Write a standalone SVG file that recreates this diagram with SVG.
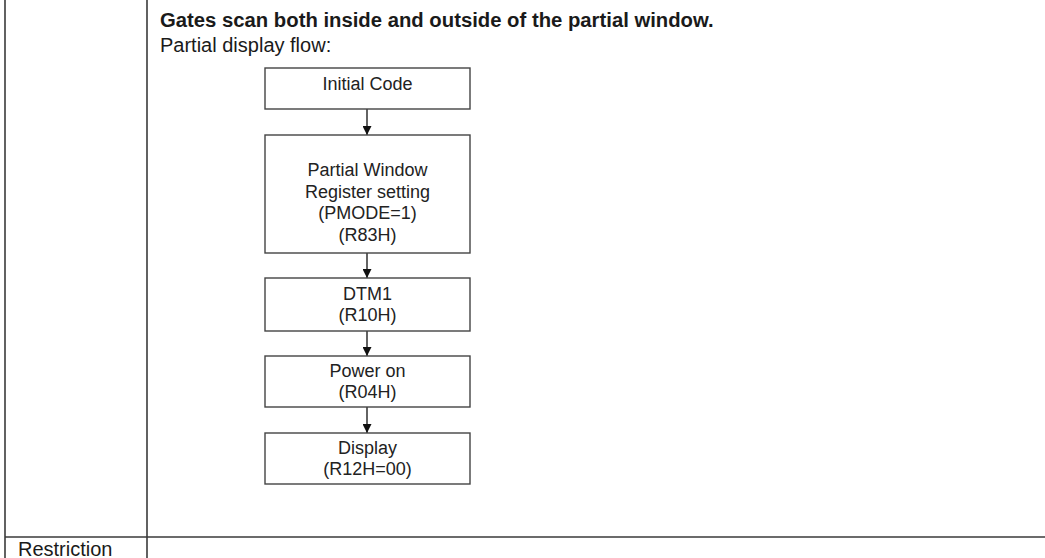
<svg xmlns="http://www.w3.org/2000/svg" width="1045" height="558" viewBox="0 0 1045 558">
<defs>
<style>
.grid{stroke:#3a3a3a;stroke-width:1.6;fill:none}
.box{fill:#ffffff;stroke:#444444;stroke-width:1.4}
.t{font-family:"Liberation Sans",Arial,sans-serif;fill:#1a1a1a}
.bt{font-family:"Liberation Sans",Arial,sans-serif;font-size:18px;fill:#222222;text-anchor:middle}
.conn{stroke:#222222;stroke-width:1.4;fill:none}
</style>
<marker id="arr" viewBox="0 0 10 10" refX="10" refY="5" markerWidth="9" markerHeight="9" markerUnits="userSpaceOnUse" orient="auto">
<path d="M0,0 L10,5 L0,10 Z" fill="#111111"/>
</marker>
</defs>
<rect width="1045" height="558" fill="#ffffff"/>
<g id="table">
<line class="grid" x1="5" y1="0" x2="5" y2="558"/>
<line class="grid" x1="147" y1="0" x2="147" y2="558"/>
<line class="grid" x1="5" y1="537" x2="1045" y2="537"/>
<text class="t" x="18" y="556" font-size="20">Restriction</text>
</g>
<g id="heading">
<text class="t" x="160" y="27" font-size="20.3" font-weight="bold">Gates scan both inside and outside of the partial window.</text>
<text class="t" x="160" y="52" font-size="20">Partial display flow:</text>
</g>
<g id="connectors">
<line class="conn" x1="367" y1="109" x2="367" y2="135" marker-end="url(#arr)"/>
<line class="conn" x1="367" y1="253" x2="367" y2="278" marker-end="url(#arr)"/>
<line class="conn" x1="367" y1="331" x2="367" y2="356" marker-end="url(#arr)"/>
<line class="conn" x1="367" y1="407" x2="367" y2="433" marker-end="url(#arr)"/>
</g>
<g id="node-initial">
<rect class="box" x="265" y="68" width="205" height="41"/>
<text class="bt" x="367.5" y="89.5">Initial Code</text>
</g>
<g id="node-partial-window">
<rect class="box" x="265" y="135" width="205" height="118"/>
<text class="bt" x="367.5" y="176">Partial Window</text>
<text class="bt" x="367.5" y="197.5">Register setting</text>
<text class="bt" x="367.5" y="219">(PMODE=1)</text>
<text class="bt" x="367.5" y="240.5">(R83H)</text>
</g>
<g id="node-dtm1">
<rect class="box" x="265" y="278" width="205" height="53"/>
<text class="bt" x="367.5" y="299.5">DTM1</text>
<text class="bt" x="367.5" y="321">(R10H)</text>
</g>
<g id="node-power">
<rect class="box" x="265" y="356" width="205" height="51"/>
<text class="bt" x="367.5" y="376.7">Power on</text>
<text class="bt" x="367.5" y="398.3">(R04H)</text>
</g>
<g id="node-display">
<rect class="box" x="265" y="433" width="205" height="51"/>
<text class="bt" x="367.5" y="454.3">Display</text>
<text class="bt" x="367.5" y="475">(R12H=00)</text>
</g>
</svg>
